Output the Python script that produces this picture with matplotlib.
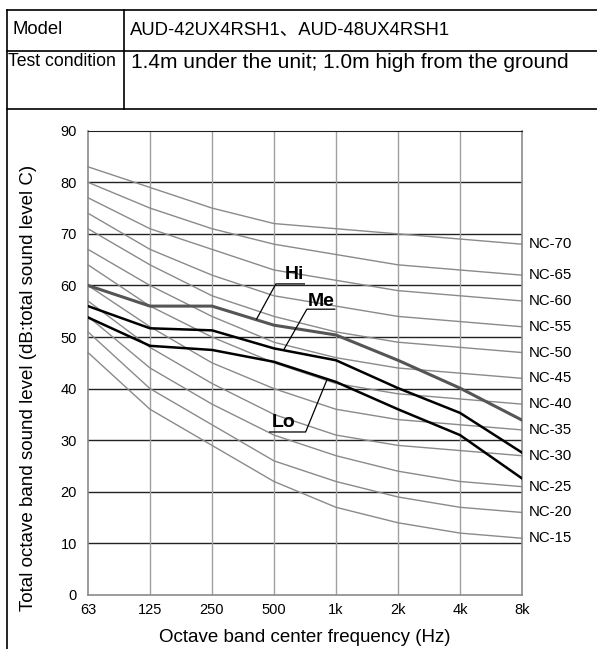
import matplotlib
matplotlib.use("Agg")
import matplotlib.pyplot as plt
from matplotlib.lines import Line2D
import numpy as np

plt.rcParams["font.family"] = ["Liberation Sans", "Noto Sans CJK SC", "DejaVu Sans"]

# data
freq_labels = ["63", "125", "250", "500", "1k", "2k", "4k", "8k"]
nc_names = ["NC-15", "NC-20", "NC-25", "NC-30", "NC-35", "NC-40",
            "NC-45", "NC-50", "NC-55", "NC-60", "NC-65", "NC-70"]
nc_values = [
    [47, 36, 29, 22, 17, 14, 12, 11],
    [51, 40, 33, 26, 22, 19, 17, 16],
    [54, 44, 37, 31, 27, 24, 22, 21],
    [57, 48, 41, 35, 31, 29, 28, 27],
    [60, 52, 45, 40, 36, 34, 33, 32],
    [64, 56, 50, 45, 41, 39, 38, 37],
    [67, 60, 54, 49, 46, 44, 43, 42],
    [71, 64, 58, 54, 51, 49, 48, 47],
    [74, 67, 62, 58, 56, 54, 53, 52],
    [77, 71, 67, 63, 61, 59, 58, 57],
    [80, 75, 71, 68, 66, 64, 63, 62],
    [83, 79, 75, 72, 71, 70, 69, 68],
]
hi = [60, 56, 56, 52.3, 50.4, 45.5, 40.1, 33.9]
me = [56, 51.7, 51.3, 47.8, 45.5, 40.1, 35.3, 27.6]
lo = [53.8, 48.3, 47.5, 45.2, 41.3, 36.0, 31.0, 22.6]

W, H = 597, 649
fig = plt.figure(figsize=(W / 100, H / 100), dpi=100)


def fx(px):
    return px / W


def fy(py):
    return 1 - py / H


# header table
def line(x0, y0, x1, y1):
    fig.add_artist(Line2D([fx(x0), fx(x1)], [fy(y0), fy(y1)], color="black", lw=1.2))


line(7, 10, 597, 10)
line(7, 51, 597, 51)
line(7, 109, 597, 109)
line(7, 10, 7, 649)
line(124, 10, 124, 109)
fig.text(fx(13), fy(30), "Model", fontsize=13.3, va="center")
fig.text(fx(130), fy(30), "AUD-42UX4RSH1、AUD-48UX4RSH1", fontsize=13.3, va="center")
fig.text(fx(8), fy(62), "Test condition", fontsize=12.7, va="center")
fig.text(fx(131), fy(62), "1.4m under the unit; 1.0m high from the ground",
         fontsize=15, va="center")

# chart
left, right, top, bottom = 88, 522, 130.7, 595
ax = fig.add_axes([fx(left), fy(bottom), (right - left) / W, (bottom - top) / H])
x = np.arange(len(freq_labels))

for name, vals in zip(nc_names, nc_values):
    ax.plot(x, vals, color="#8a8a8a", lw=1.0, zorder=2, clip_on=False)
    ax.text(x[-1] + 0.11, vals[-1], name, fontsize=10.8, va="center", ha="left")

ax.plot(x, hi, color="#555555", lw=2.2, zorder=4)
ax.plot(x, me, color="black", lw=1.8, zorder=4)
ax.plot(x, lo, color="black", lw=1.8, zorder=4)

for yv in range(10, 90, 10):
    ax.axhline(yv, color="#222222", lw=1.0, zorder=1)
for xv in x[1:-1]:
    ax.axvline(xv, color="#a0a0a0", lw=1.0, zorder=1)

ax.set_xlim(0, 7)
ax.set_ylim(0, 90)
ax.set_xticks(x)
ax.set_xticklabels(freq_labels)
ax.set_yticks(range(0, 100, 10))
ax.tick_params(length=0, labelsize=10.5, pad=6)
ax.tick_params(axis="y", pad=8)
for side in ["left", "right", "bottom"]:
    ax.spines[side].set_color("#8a8a8a")
    ax.spines[side].set_linewidth(1.2)
ax.spines["top"].set_color("#222222")

# Hi / Me / Lo labels with leader lines
lbl = dict(fontsize=14, fontweight="bold", ha="center", va="center", zorder=6)
ax.text(3.33, 62.2, "Hi", **lbl)
ax.plot([2.72, 3.03, 3.49], [53.5, 60.3, 60.3], color="black", lw=0.9, zorder=5)
ax.text(3.76, 56.9, "Me", **lbl)
ax.plot([3.16, 3.53, 3.98], [47.6, 55.4, 55.4], color="black", lw=0.9, zorder=5)
ax.text(3.15, 33.5, "Lo", **lbl)
ax.plot([2.93, 3.51, 3.86], [31.6, 31.6, 41.9], color="black", lw=0.9, zorder=5)

fig.text(fx(29), fy(388), "Total octave band sound level (dB:total sound level C)",
         rotation=90, fontsize=13.5, ha="center", va="center")
fig.text(fx(305), fy(637), "Octave band center frequency (Hz)",
         fontsize=13.5, ha="center", va="center")

fig.savefig("out.png", dpi=100)
